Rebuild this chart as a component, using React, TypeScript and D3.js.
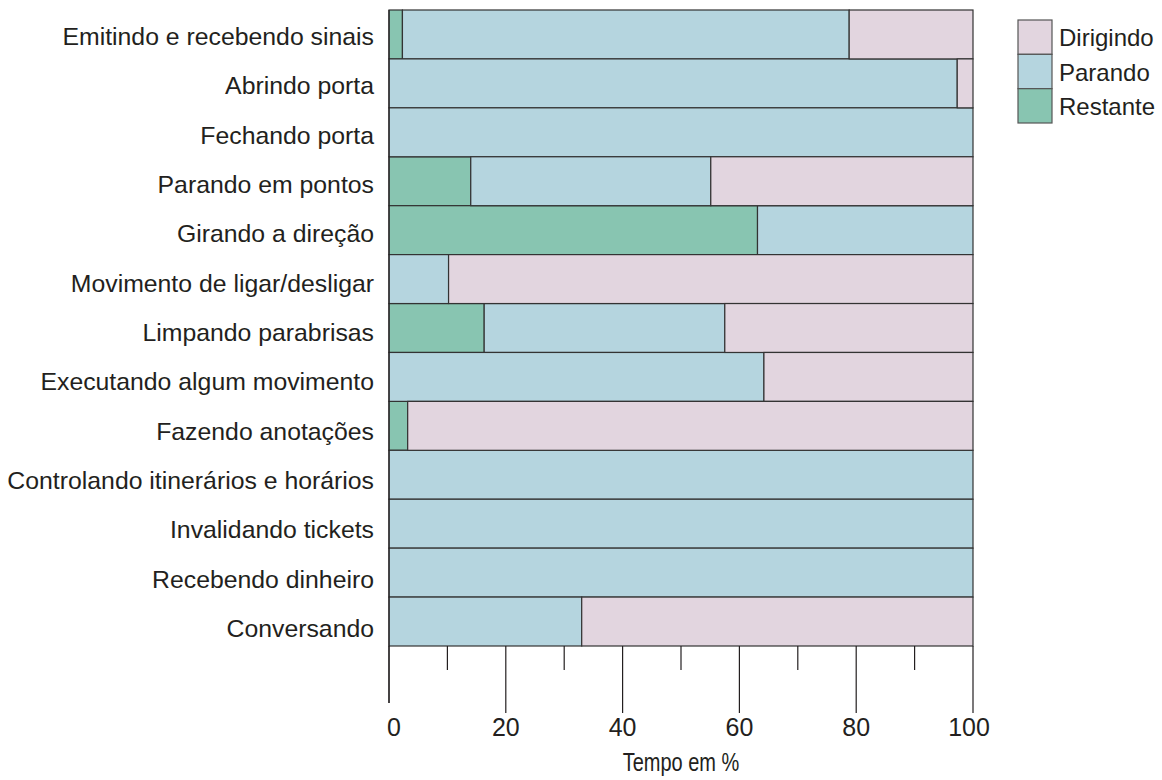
import React from "react";
import * as d3 from "d3";

const categories = [
  "Emitindo e recebendo sinais",
  "Abrindo porta",
  "Fechando porta",
  "Parando em pontos",
  "Girando a direção",
  "Movimento de ligar/desligar",
  "Limpando parabrisas",
  "Executando algum movimento",
  "Fazendo anotações",
  "Controlando itinerários e horários",
  "Invalidando tickets",
  "Recebendo dinheiro",
  "Conversando",
];

const restante = [2.3, 0, 0, 14.0, 63.1, 0, 16.3, 0, 3.2, 0, 0, 0, 0];
const parando = [76.5, 97.3, 100, 41.1, 36.9, 10.2, 41.2, 64.2, 0, 100, 100, 100, 33.0];
const dirigindo = [21.2, 2.7, 0, 44.9, 0, 89.8, 42.5, 35.8, 96.8, 0, 0, 0, 67.0];

const seriesKeys = ["Restante", "Parando", "Dirigindo"];
const legendKeys = ["Dirigindo", "Parando", "Restante"];
const majorTicks = [0, 20, 40, 60, 80, 100];
const minorTicks = [10, 30, 50, 70, 90];
const xTitle = "Tempo em %";

const colors: Record<string, string> = {
  Dirigindo: "#e2d5df",
  Parando: "#b5d5df",
  Restante: "#88c5b1",
};

const W = 1162;
const H = 780;
const ink = "#231f20";
const font = "'Liberation Sans', Arial, sans-serif";

export default function App() {
  const rows = categories.map((c, i) => ({
    cat: c,
    Restante: restante[i],
    Parando: parando[i],
    Dirigindo: dirigindo[i],
  }));
  const stacked = d3.stack<any>().keys(seriesKeys)(rows);

  const x = d3.scaleLinear().domain([0, 100]).range([389, 973]);
  const y = d3.scaleBand().domain(categories).range([10, 646]).padding(0);
  const yLabel = d3.scalePoint().domain(categories).range([45, 637]);
  const legendY = d3.scaleBand().domain(legendKeys).range([20, 123]).padding(0);

  const axisTop = 646;

  return (
    <svg
      width={W}
      height={H}
      style={{ position: "absolute", left: 0, top: 0, background: "#fff" }}
      fontFamily={font}
    >
      {stacked.map((s) => (
        <g key={s.key}>
          {s.map((d, i) =>
            d[1] - d[0] > 0 ? (
              <rect
                key={i}
                x={x(d[0])}
                y={y(categories[i])}
                width={x(d[1]) - x(d[0])}
                height={y.bandwidth()}
                fill={colors[s.key]}
                stroke="#333"
                strokeWidth={1.2}
              />
            ) : null
          )}
        </g>
      ))}

      <line x1={x(0)} x2={x(0)} y1={10} y2={703} stroke={ink} strokeWidth={1.2} />

      {majorTicks.map((t) => (
        <line
          key={"M" + t}
          x1={x(t)}
          x2={x(t)}
          y1={axisTop}
          y2={t === 0 ? 703 : 713}
          stroke={ink}
          strokeWidth={1.2}
        />
      ))}
      {minorTicks.map((t) => (
        <line
          key={"m" + t}
          x1={x(t)}
          x2={x(t)}
          y1={axisTop}
          y2={670}
          stroke={ink}
          strokeWidth={1.2}
        />
      ))}
      {majorTicks.map((t) => (
        <text
          key={"l" + t}
          x={x(t) + (t === 0 ? 5 : t === 100 ? -4 : 0)}
          y={736}
          textAnchor="middle"
          fontSize={25}
          fill={ink}
        >
          {t}
        </text>
      ))}
      <text
        transform={`translate(${(x(0) + x(100)) / 2}, 771) scale(0.8,1)`}
        textAnchor="middle"
        fontSize={25}
        fill={ink}
      >
        {xTitle}
      </text>

      {categories.map((c) => (
        <text
          key={c}
          x={374}
          y={yLabel(c)}
          textAnchor="end"
          fontSize={24.8}
          fill={ink}
        >
          {c}
        </text>
      ))}

      {legendKeys.map((k) => (
        <g key={k}>
          <rect
            x={1018}
            y={legendY(k)}
            width={34}
            height={legendY.bandwidth()}
            fill={colors[k]}
            stroke="#555"
            strokeWidth={1.2}
          />
          <text
            x={1059}
            y={(legendY(k) as number) + legendY.bandwidth() / 2 + 9}
            fontSize={24}
            fill={ink}
          >
            {k}
          </text>
        </g>
      ))}
    </svg>
  );
}
